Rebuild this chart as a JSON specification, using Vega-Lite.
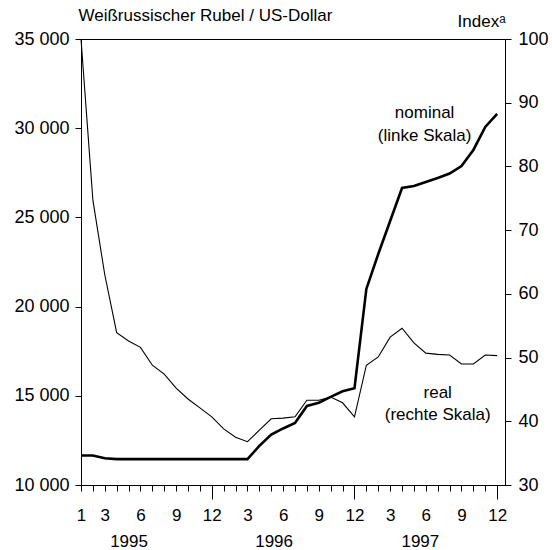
{
  "$schema": "https://vega.github.io/schema/vega-lite/v6.json",
  "autosize": {"type": "none"},
  "width": 424,
  "height": 446,
  "padding": {"left": 81, "top": 39, "right": 47, "bottom": 65},
  "background": "white",
  "config": {
    "view": {"stroke": "black", "strokeWidth": 1},
    "axis": {
      "grid": false,
      "domainColor": "black",
      "tickColor": "black",
      "labelColor": "black",
      "titleColor": "black",
      "labelFont": "Liberation Sans",
      "titleFont": "Liberation Sans",
      "labelFontSize": 17,
      "titleFontSize": 17,
      "titleFontWeight": "normal",
      "domainWidth": 1,
      "tickWidth": 1
    },
    "text": {"font": "Liberation Sans", "fontSize": 17, "color": "black"}
  },
  "datasets": {
    "series": [
      {"i": 0, "nominal": 11650, "real": 100},
      {"i": 1, "nominal": 11650, "real": 74.7},
      {"i": 2, "nominal": 11500, "real": 63},
      {"i": 3, "nominal": 11450, "real": 53.9},
      {"i": 4, "nominal": 11450, "real": 52.6},
      {"i": 5, "nominal": 11450, "real": 51.6},
      {"i": 6, "nominal": 11450, "real": 48.8},
      {"i": 7, "nominal": 11450, "real": 47.4},
      {"i": 8, "nominal": 11450, "real": 45.2},
      {"i": 9, "nominal": 11450, "real": 43.5},
      {"i": 10, "nominal": 11450, "real": 42.1},
      {"i": 11, "nominal": 11450, "real": 40.7},
      {"i": 12, "nominal": 11450, "real": 38.8},
      {"i": 13, "nominal": 11450, "real": 37.5},
      {"i": 14, "nominal": 11450, "real": 36.8},
      {"i": 15, "nominal": 12190, "real": 38.6},
      {"i": 16, "nominal": 12830, "real": 40.4},
      {"i": 17, "nominal": 13170, "real": 40.5},
      {"i": 18, "nominal": 13480, "real": 40.7},
      {"i": 19, "nominal": 14430, "real": 43.3},
      {"i": 20, "nominal": 14610, "real": 43.3},
      {"i": 21, "nominal": 14940, "real": 43.8},
      {"i": 22, "nominal": 15250, "real": 42.9},
      {"i": 23, "nominal": 15420, "real": 40.7},
      {"i": 24, "nominal": 20990, "real": 48.8},
      {"i": 25, "nominal": 22950, "real": 50.1},
      {"i": 26, "nominal": 24800, "real": 53.2},
      {"i": 27, "nominal": 26650, "real": 54.6},
      {"i": 28, "nominal": 26760, "real": 52.3},
      {"i": 29, "nominal": 26980, "real": 50.7},
      {"i": 30, "nominal": 27210, "real": 50.5},
      {"i": 31, "nominal": 27460, "real": 50.4},
      {"i": 32, "nominal": 27880, "real": 49.0},
      {"i": 33, "nominal": 28780, "real": 49.0},
      {"i": 34, "nominal": 30070, "real": 50.4},
      {"i": 35, "nominal": 30800, "real": 50.3}
    ],
    "notesNominal": [
      {"i": 28.9, "nominal": 30850, "label": "nominal"},
      {"i": 28.9, "nominal": 29590, "label": "(linke Skala)"}
    ],
    "notesReal": [
      {"i": 30.0, "real": 44.4, "label": "real"},
      {"i": 30.0, "real": 41.0, "label": "(rechte Skala)"}
    ]
  },
  "layer": [
    {
      "encoding": {
        "x": {
          "field": "i",
          "type": "quantitative",
          "scale": {"domain": [0, 35.66], "nice": false, "zero": false},
          "axis": {
            "orient": "bottom",
            "title": null,
            "values": [0,1,2,3,4,5,6,7,8,9,10,11,12,13,14,15,16,17,18,19,20,21,22,23,24,25,26,27,28,29,30,31,32,33,34,35],
            "labelExpr": "(datum.value == 0 || datum.value % 12 == 2 || datum.value % 12 == 5 || datum.value % 12 == 8 || datum.value % 12 == 11) ? '' + (datum.value % 12 + 1) : ''",
            "tickSize": {"condition": {"test": "datum.value % 12 == 11", "value": 14}, "value": 6},
            "labelPadding": {"condition": {"test": "datum.value % 12 == 11", "value": 8}, "value": 16},
            "labelOverlap": false,
            "labelFlush": false
          }
        },
        "y": {
          "field": "nominal",
          "type": "quantitative",
          "scale": {"domain": [10000, 35000], "nice": false, "zero": false},
          "axis": {
            "orient": "left",
            "values": [10000, 15000, 20000, 25000, 30000, 35000],
            "labelExpr": "replace(format(datum.value, ','), ',', ' ')",
            "labelFontSize": 18,
            "tickSize": 6,
            "labelPadding": 6,
            "title": "Weißrussischer Rubel / US-Dollar",
            "titleAngle": 0,
            "titleAlign": "left",
            "titleBaseline": "middle",
            "titleX": -3,
            "titleY": -24
          }
        }
      },
      "layer": [
        {
          "data": {"name": "series"},
          "mark": {"type": "line", "color": "black", "strokeWidth": 2.6},
          "encoding": {}
        },
        {
          "data": {"name": "notesNominal"},
          "mark": {"type": "text", "align": "center", "baseline": "middle"},
          "encoding": {"text": {"field": "label"}}
        }
      ]
    },
    {
      "encoding": {
        "x": {
          "field": "i",
          "type": "quantitative",
          "scale": {"domain": [0, 35.66], "nice": false, "zero": false},
          "axis": {
            "orient": "bottom",
            "title": null,
            "values": [4, 16.2, 28.5],
            "labelExpr": "datum.value < 10 ? '1995' : datum.value < 22 ? '1996' : '1997'",
            "ticks": false,
            "tickSize": 0,
            "domain": false,
            "labelPadding": 48,
            "labelFontSize": 17,
            "labelOverlap": false,
            "labelFlush": false
          }
        },
        "y": {
          "field": "real",
          "type": "quantitative",
          "scale": {"domain": [30, 100], "nice": false, "zero": false},
          "axis": {
            "orient": "right",
            "values": [30, 40, 50, 60, 70, 80, 90, 100],
            "labelFontSize": 18,
            "tickSize": 6,
            "labelPadding": 7,
            "title": "Indexᵃ",
            "titleAngle": 0,
            "titleAlign": "right",
            "titleBaseline": "middle",
            "titleX": 0,
            "titleY": -18
          }
        }
      },
      "layer": [
        {
          "data": {"name": "series"},
          "mark": {"type": "line", "color": "black", "strokeWidth": 1.1},
          "encoding": {}
        },
        {
          "data": {"name": "notesReal"},
          "mark": {"type": "text", "align": "center", "baseline": "middle"},
          "encoding": {"text": {"field": "label"}}
        }
      ]
    }
  ],
  "resolve": {"scale": {"x": "independent", "y": "independent"}}
}
